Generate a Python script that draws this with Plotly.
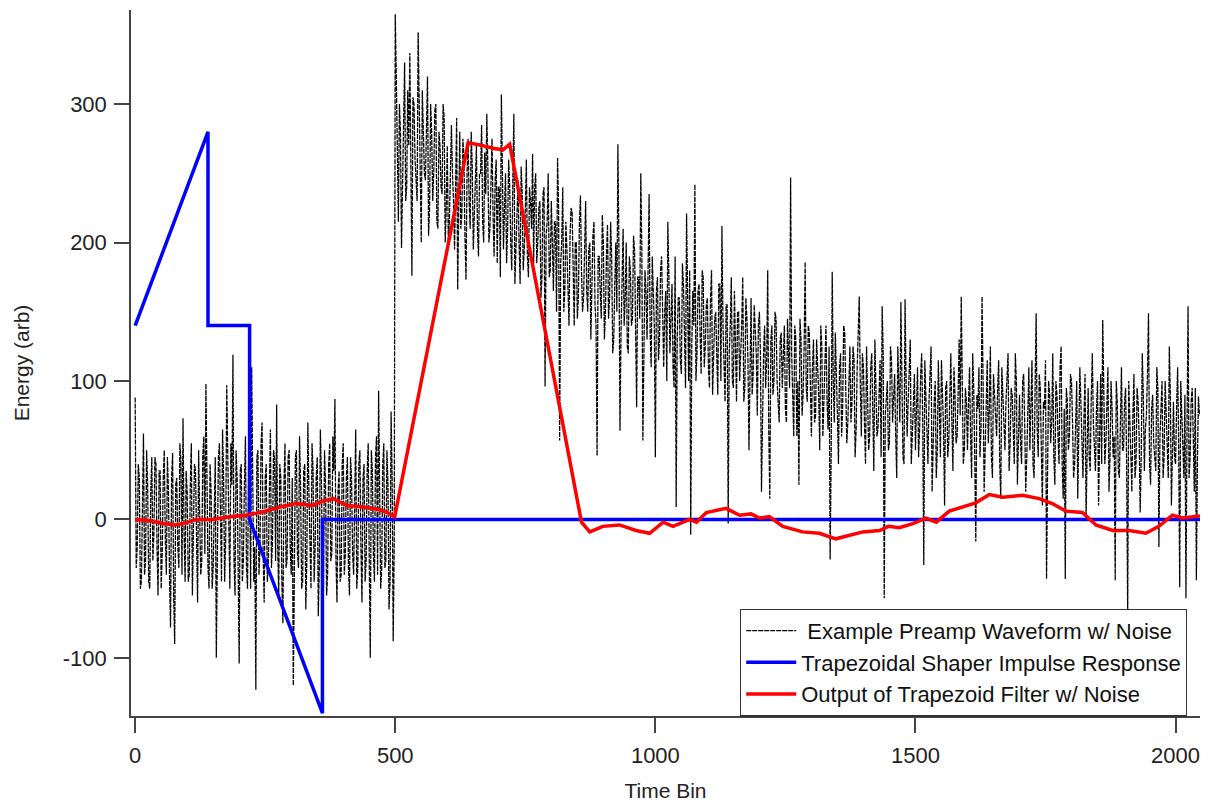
import plotly.graph_objects as go

# ---------------- data ----------------
# Example preamp waveform: samples at bins 0,4,8,...,2044
preamp_vals_a = [
    # 0-96
    88, -20, 30, -45, 62, -30, 25, -50, 45, -10, 40, -55, 35, -25, 50, -40, 20, -78, 48, -90, 30, -35, 42, 73, -45,
    # 100-196
    20, -40, 55, -20, 35, -60, 10, -30, 60, 98, -35, 40, -50, 25, -100, 45, -20, 65, -45, 97, -25, 55, 119, -55, 30,
    # 200-296
    -104, 40, -30, 60, -50, 35, 110, -45, -123, 50, -20, 70, -60, 40, -35, 65, -15, 45, 83, -55, 30, -75, 55, -30, 50,
    # 300-396
    -40, -120, 45, -25, 60, -50, 35, -65, 70, -20, 55, -45, 30, -70, 65, -35, 50, -55, 40, -30, 60, 87, -60, 35, -40,
    # 400-496
    55, -25, 45, -55, 30, -40, 65, -35, 50, -60, 40, -30, 55, -100, 35, -45, 60, 93, -50, 40, -35, 50, -65, 78, -88,
    # 500
    365,
    # 504-596
    240, 300, 196, 290, 230, 310, 337, 176, 300, 240, 352, 225, 310, 250, 285, 205, 300, 230, 295, 215, 280, 240, 300, 200,
    # 600-696
    270, 215, 285, 230, 265, 166, 280, 220, 260, 173, 275, 210, 255, 225, 270, 190, 250, 215, 265, 293, 200, 255, 220, 245, 185,
    # 700-796
    240, 307, 195, 250, 210, 240, 180, 293, 200, 245, 170, 235, 195, 260, 175, 230, 264, 240, 185, 225, 160, 235, 96, 215, 175,
    # 800-896
    230, 165, 215, 261, 57, 200, 150, 215, 170, 205, 222, 140, 200, 160, 234, 150, 210, 165, 195, 130, 205, 155, 46, 190, 145,
    # 900-996
    200, 150, 213, 160, 190, 130, 200, 271, 64, 185, 140, 200, 120, 180, 145, 195, 81, 175, 250, 57, 180, 130, 235, 110, 170,
    # 1000-1096
    45, 175, 130, 190, 110, 165, 215, 120, 170, 95, 9, 160, 115, 185, 130, 221, 100, -11, 165, 242, 120, 170, 105, 175, 125,
    # 1100-1196
    160, 95, 180, 120, 150, 90, 170, 212, 110, 155, -3, 140, 100, 165, 85, 150, 115, 175, 95, 145, 50, 160, 105, 140, 75,
    # 1200-1296
    150, 20, 120, 95, 180, 15, 140, 100, 145, 80, 130, 95, 140, 70, 125, 247, 90, 140, 60, 25, 130, 90, 186, 85, 135,
    # 1300-1396
    60, 130, 75, 115, 50, 125, 85, 140, 65, -29, 179, 70, 110, 40, 120, 80, 135, 55, 105, 70, 125, 45, 110, 161, 60,
    # 1400-1496
    110, 40, 95, 60, 120, 35, 100, 65, 115, 154, -57, 90, 50, 125, 70, 105, 30, 95, 157, 45, 159, 60, 110, 40, 95,
    # 1500-1596
    50, 110, 65, 120, -33, 90, 40, 105, 20, 85, 30, 115, 45, 95, 10, 100, 55, 120, 35, 90, 60, 130, 161, 40, 95,
    # 1600-1696
    50, 110, 30, 95, -16, 80, 45, 161, 20, 100, 55, 125, 30, 90, 60, 115, 15, 85, 50, 110, 35, 95, 65, 120, 25,
    # 1700-1796
    90, 40, 105, 20, 85, 50, 115, 30, 149, 45, 95, 10, 80, -43, 100, 55, 120, 25, 90, 40, 125, 15, -43, 85, 60,
    # 1800-1896
    100, 30, 85, 15, 110, 45, 75, 0, 95, 35, 120, 50, 80, 10, 105, 144, 40, 90, 20, 100, 45, -44, 85, 30, 110,
    # 1900-1996
    50, 95, -70, 70, 20, 105, 40, 85, 5, 120, 35, 75, 149, 25, 90, 45, 110, -20, 80, 30, 100, 55, 125, 10, 85,
    # 2000-2044
    40, 110, -49, 75, 30, -57, 154, 45, 95, 20, -44, 89,
]
# Example preamp waveform: samples at bins 2,6,10,...,2046
preamp_vals_b = [
    # 2-98
    -35, 40, -50, 25, -40, 50, -45, 20, -30, 45, -20, 35, -50, 30, -15, 45, -40, 30, -55, 25, -20, 55, -40, -10, 35,
    # 102-198
    -45, 25, -55, 40, -30, 50, -40, 45, -25, 30, -50, 20, -35, 45, -20, 55, -45, 30, -15, 40, -50, 25, -30, 50, -25,
    # 202-298
    35, -45, 25, -35, 40, -50, 30, -20, 45, -40, 55, -25, 30, -45, 20, -35, 50, -30, -20, 40, -45, 25, -35, 45, -20,
    # 302-398
    30, -40, 50, -35, 25, -45, 40, -30, 20, -50, 35, -20, 45, -35, 30, -50, 25, -40, 55, -25, 35, -30, 20, -45, 40,
    # 402-498
    -40, 30, -35, 45, -25, 35, -50, 40, -20, 30, -45, 35, -30, 50, -25, 45, -40, 20, -35, 55, -30, 25, -45, 30, -20,
    # 502-598
    320, 215, 280, 250, 330, 240, 270, 215, 305, 260, 230, 290, 200, 275, 245, 320, 225, 280, 250, 300, 210, 270, 235, 290, 225,
    # 602-698
    200, 265, 250, 195, 290, 240, 210, 275, 205, 250, 230, 280, 195, 260, 210, 250, 285, 200, 235, 255, 210, 275, 190, 260, 240,
    # 702-798
    175, 250, 225, 185, 260, 200, 245, 170, 235, 200, 255, 180, 225, 190, 240, 210, 185, 250, 200, 230, 175, 240, 205, 250, 180,
    # 802-898
    200, 215, 150, 225, 185, 240, 165, 195, 140, 225, 170, 200, 145, 215, 180, 160, 230, 150, 200, 170, 215, 140, 190, 165, 220,
    # 902-998
    130, 190, 145, 215, 120, 170, 150, 195, 135, 210, 160, 125, 190, 140, 205, 130, 175, 145, 195, 120, 165, 180, 135, 190, 140,
    # 1002-1098
    165, 115, 180, 130, 150, 100, 175, 145, 110, 190, 130, 160, 105, 170, 95, 150, 180, 125, 140, 100, 165, 135, 180, 110, 155,
    # 1102-1198
    110, 160, 90, 145, 125, 170, 100, 140, 85, 155, 120, 175, 95, 135, 150, 100, 140, 85, 160, 115, 130, 90, 155, 120, 140,
    # 1202-1298
    120, 75, 140, 115, 65, 130, 90, 150, 100, 70, 135, 115, 80, 145, 95, 120, 60, 130, 100, 145, 75, 125, 95, 140, 80,
    # 1302-1398
    110, 70, 130, 90, 140, 60, 115, 85, 125, 50, 100, 135, 75, 110, 60, 140, 95, 70, 125, 85, 115, 65, 130, 95, 120,
    # 1402-1498
    70, 125, 50, 110, 80, 130, 60, 95, 45, 120, 75, 100, 55, 115, 85, 60, 125, 70, 110, 40, 100, 85, 130, 65, 105,
    # 1502-1598
    90, 45, 105, 70, 115, 55, 85, 125, 60, 100, 50, 80, 115, 65, 95, 45, 105, 70, 110, 55, 90, 75, 100, 50, 85,
    # 1602-1698
    85, 60, 120, 45, 90, 110, 65, 100, 50, 115, 80, 45, 105, 70, 95, 40, 110, 65, 85, 120, 55, 90, 40, 100, 75,
    # 1702-1798
    55, 100, 70, 45, 110, 80, 40, 95, 65, 105, 50, 85, 115, 35, 90, 70, 45, 100, 60, 110, 40, 80, 95, 50, 105,
    # 1802-1898
    70, 40, 100, 55, 85, 30, 105, 60, 45, 90, 70, 35, 100, 65, 40, 95, 55, 110, 45, 80, 60, 100, 35, 75, 50,
    # 1902-1998
    85, 40, 100, 55, 75, 30, 95, 60, 45, 90, 65, 105, 40, 80, 55, 35, 95, 60, 100, 45, 75, 30, 90, 60, 45,
    # 2002-2046
    80, 55, 100, 40, 90, 65, 30, 85, 60, 95, 40, 75,
]
assert len(preamp_vals_a) == 512 and len(preamp_vals_b) == 512

# Trapezoidal shaper impulse response (corner points)
shaper_bins = [0, 140, 140, 220, 220, 360, 360, 2047]
shaper_vals = [140, 280, 140, 140, 0, -140, 0, 0]

# Output of trapezoid filter
filter_bins = [0, 30, 54, 75, 93, 118, 150, 182, 214, 246, 278, 310, 342, 355, 381, 407, 438, 470, 485, 499,
               640, 663, 690, 707, 720, 858, 874, 899, 931, 963, 989, 1015, 1034, 1066, 1079, 1098, 1136, 1162,
               1184, 1200, 1219, 1245, 1283, 1315, 1347, 1379, 1399, 1431, 1448, 1469, 1495, 1520, 1540, 1565,
               1591, 1616, 1642, 1668, 1706, 1738, 1763, 1789, 1821, 1847, 1879, 1911, 1943, 1968, 1994, 2013, 2047]
filter_vals = [0, -1, -3, -4, -3, 0, 0, 2, 3, 5.5, 9, 11.5, 10, 12.7, 15, 10, 9, 7, 5, 2,
               272, 270.5, 268, 267, 271, -2, -9, -5, -4, -8, -10, -2, -5, 0, -2, 5, 8, 3,
               4, 1, 2, -5, -9, -10, -14, -11, -9, -8, -5, -6, -3, 1, -2, 6,
               9, 12, 18, 16, 17.5, 15, 11.5, 6, 5, -4, -8, -8, -10, -5, 3, 1, 2.4]

x_ticks = [0, 500, 1000, 1500, 2000]
y_ticks = [-100, 0, 100, 200, 300]

names = ["\u00a0Example Preamp Waveform w/ Noise",
         "Trapezoidal Shaper Impulse Response",
         "Output of Trapezoid Filter w/ Noise"]

# interleave the two sample sets into one time series
preamp_bins, preamp_vals = [], []
for i, (va, vb) in enumerate(zip(preamp_vals_a, preamp_vals_b)):
    preamp_bins += [4 * i, 4 * i + 2]
    preamp_vals += [va, vb]

# ---------------- figure ----------------
FONT = "Arial, 'Liberation Sans', Helvetica, sans-serif"

fig = go.Figure()
fig.add_trace(go.Scatter(x=preamp_bins, y=preamp_vals, mode="lines", name=names[0],
                         line=dict(color="black", width=1.25, dash="5px,1px")))
fig.add_trace(go.Scatter(x=shaper_bins, y=shaper_vals, mode="lines", name=names[1],
                         line=dict(color="#0000FF", width=3.5)))
fig.add_trace(go.Scatter(x=filter_bins, y=filter_vals, mode="lines", name=names[2],
                         line=dict(color="#FF0000", width=3.5)))

axis_common = dict(showgrid=False, zeroline=False, showline=True, linecolor="#444444", linewidth=1.5,
                   ticks="outside", ticklen=15, tickwidth=1.5, tickcolor="#444444", automargin=False,
                   tickfont=dict(family=FONT, size=22, color="#222222"))

fig.update_layout(
    width=1217, height=802,
    margin=dict(l=131, r=17, t=10, b=86),
    paper_bgcolor="white", plot_bgcolor="white",
    font=dict(family=FONT, size=22, color="#222222"),
    showlegend=True,
    legend=dict(x=0.5697, y=0.152, xanchor="left", yanchor="top",
                bgcolor="white", bordercolor="#333333", borderwidth=1.2,
                font=dict(family=FONT, size=22, color="#111111"),
                itemwidth=50, tracegroupgap=0),
    xaxis=dict(range=[-8, 2047], tickvals=x_ticks, ticktext=[str(v) for v in x_ticks],
               ticklabelstandoff=4,
               title=dict(text="Time Bin", font=dict(family=FONT, size=21, color="#222222"), standoff=22),
               **axis_common),
    yaxis=dict(range=[-142, 368], tickvals=y_ticks, ticktext=[str(v) for v in y_ticks],
               ticklabelstandoff=3,
               title=dict(text="Energy (arb)", font=dict(family=FONT, size=21, color="#222222"), standoff=27),
               **axis_common),
)

fig.write_html("out.html")
